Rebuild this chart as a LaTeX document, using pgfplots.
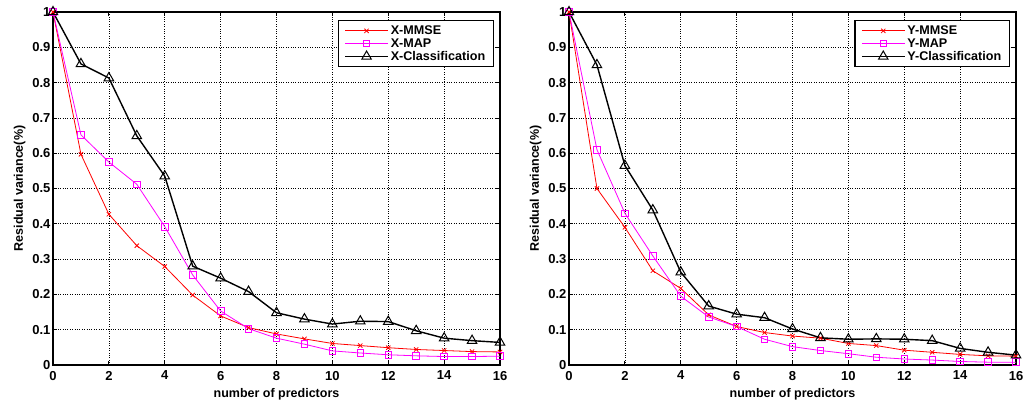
\documentclass[border=0pt]{standalone}
\usepackage{fontspec}
\setmainfont{Liberation Sans}
\usepackage{pgfplots}
\pgfplotsset{compat=1.18}
\definecolor{mag}{RGB}{255,0,255}
\begin{document}
\begin{tikzpicture}[x=1pt,y=1pt]
\useasboundingbox (0,0) rectangle (1024,405);
\pgfplotsset{
  myax/.style={
    scale only axis, width=447pt, height=353pt,
    xmin=0, xmax=16, ymin=0, ymax=1,
    xtick={0,2,...,16}, ytick={0,0.1,...,1.0},
    yticklabels={0,0.1,0.2,0.3,0.4,0.5,0.6,0.7,0.8,0.9,1},
    grid=major, major grid style={black, dotted, line width=0.7pt},
    axis line style={black, line width=1.2pt},
    tick align=inside, major tick length=4pt, tick style={black, line width=0.8pt},
    ticklabel style={font=\bfseries\fontsize{13}{15}\selectfont},
    xticklabel style={yshift=-2.5pt},
    yticklabel style={xshift=1pt},
    /pgf/number format/assume math mode=true,
    xlabel={\bfseries number of predictors},
    ylabel={\bfseries Residual variance(\%)},
    label style={font=\bfseries\fontsize{12.5}{14}\selectfont},
    xlabel style={yshift=-1pt},
    ylabel style={yshift=0pt},
    legend style={at={(1,1)}, anchor=north east, xshift=-6pt, yshift=-8pt, draw=black, line width=1.4pt,
      font=\bfseries\fontsize{12.6}{16}\selectfont, inner xsep=6pt, inner ysep=3pt, row sep=-1.5pt},
    legend cell align=left,
    legend image code/.code={\draw[mark repeat=2,mark phase=2] plot coordinates {(0pt,0pt) (21.5pt,0pt) (43pt,0pt)};},
  },
  mm/.style={red, line width=0.8pt, mark=x, mark size=3pt, mark options={solid, line width=0.8pt}},
  mp/.style={mag, line width=0.8pt, mark=square, mark size=3.3pt, mark options={solid, line width=0.8pt}},
  cl/.style={black, line width=1.4pt, mark=triangle, mark size=5.5pt, mark options={solid, line width=1pt}},
}
\begin{axis}[myax, at={(53pt,40pt)}, anchor=south west]
\addplot[mm] coordinates {(0,1)(1,0.597)(2,0.427)(3,0.338)(4,0.279)(5,0.198)(6,0.139)(7,0.106)(8,0.088)(9,0.074)(10,0.061)(11,0.055)(12,0.049)(13,0.044)(14,0.041)(15,0.038)(16,0.037)};
\addlegendentry{X-MMSE}
\addplot[mp] coordinates {(0,1)(1,0.652)(2,0.575)(3,0.512)(4,0.392)(5,0.255)(6,0.153)(7,0.103)(8,0.076)(9,0.059)(10,0.040)(11,0.034)(12,0.029)(13,0.026)(14,0.024)(15,0.024)(16,0.025)};
\addlegendentry{X-MAP}
\addplot[cl] coordinates {(0,1)(1,0.853)(2,0.813)(3,0.649)(4,0.535)(5,0.280)(6,0.246)(7,0.208)(8,0.148)(9,0.130)(10,0.116)(11,0.124)(12,0.123)(13,0.097)(14,0.076)(15,0.069)(16,0.064)};
\addlegendentry{X-Classification}
\end{axis}
\begin{axis}[myax, at={(569pt,40pt)}, anchor=south west]
\addplot[mm] coordinates {(0,1)(1,0.500)(2,0.390)(3,0.267)(4,0.217)(5,0.142)(6,0.109)(7,0.092)(8,0.082)(9,0.076)(10,0.061)(11,0.055)(12,0.042)(13,0.036)(14,0.030)(15,0.026)(16,0.025)};
\addlegendentry{Y-MMSE}
\addplot[mp] coordinates {(0,1)(1,0.610)(2,0.430)(3,0.309)(4,0.195)(5,0.136)(6,0.109)(7,0.073)(8,0.052)(9,0.041)(10,0.032)(11,0.022)(12,0.017)(13,0.014)(14,0.010)(15,0.008)(16,0.008)};
\addlegendentry{Y-MAP}
\addplot[cl] coordinates {(0,1)(1,0.850)(2,0.565)(3,0.439)(4,0.263)(5,0.167)(6,0.144)(7,0.134)(8,0.102)(9,0.077)(10,0.073)(11,0.074)(12,0.073)(13,0.069)(14,0.047)(15,0.036)(16,0.028)};
\addlegendentry{Y-Classification}
\end{axis}
\end{tikzpicture}
\end{document}
